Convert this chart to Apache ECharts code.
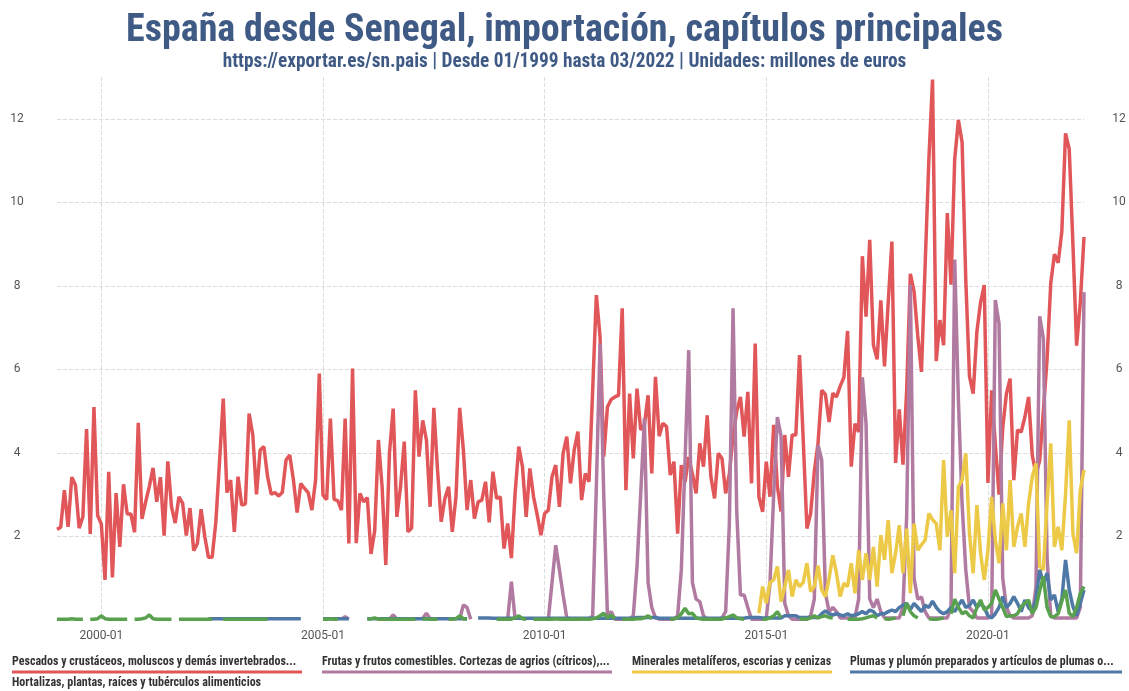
<!DOCTYPE html>
<html><head><meta charset="utf-8">
<script src="https://cdn.jsdelivr.net/npm/echarts@6/dist/echarts.min.js"></script>
<style>html,body{margin:0;padding:0;background:#fff}#c{width:1129px;height:691px}</style>
</head><body><div id="c"></div>
<script>
// Monthly categories 1999-01 .. 2022-03
const categories = [];
for (let y = 1999; y <= 2022; y++) for (let m = 1; m <= 12; m++) {
  if (y === 2022 && m > 3) break;
  categories.push(y + '-' + String(m).padStart(2, '0'));
}
const tickLabels = ['2000-01', '2005-01', '2010-01', '2015-01', '2020-01'];
const seriesNames = [
  'Pescados y crustáceos, moluscos y demás invertebrados...',
  'Frutas y frutos comestibles. Cortezas de agrios (cítricos),...',
  'Minerales metalíferos, escorias y cenizas',
  'Plumas y plumón preparados y artículos de plumas o...',
  'Hortalizas, plantas, raíces y tubérculos alimenticios'
];
const colors = ['#e15759', '#b07aa1', '#edc948', '#4e79a7', '#59a14f'];

const pescados = [
  2.17,2.22,3.11,2.23,3.42,3.23,2.2,2.47,4.57,2.06,5.1,2.5,
  2.3,0.96,3.55,1.02,3.04,1.75,3.25,2.54,2.54,2.1,4.72,2.42,
  2.83,3.2,3.64,2.83,3.42,2.02,3.8,2.71,2.32,2.95,2.8,2.02,
  2.68,1.66,1.83,2.65,2.0,1.5,1.5,2.35,3.8,5.3,3.05,3.35,
  2.11,3.43,2.75,2.78,4.94,4.43,3.01,4.07,4.15,3.43,3.01,3.05,
  2.97,3.06,3.83,3.95,3.35,2.57,3.27,3.15,3.05,2.63,3.35,5.9,
  2.99,2.88,4.82,2.89,2.86,2.63,4.82,1.83,6.02,1.84,3.03,2.83,
  2.93,1.58,2.14,4.31,3.19,1.32,4.0,5.06,2.47,3.2,4.27,2.11,
  2.2,5.5,3.91,4.78,4.31,2.71,5.08,3.6,2.35,2.91,3.19,2.11,
  2.95,5.08,4.07,2.63,3.35,2.43,2.83,2.87,3.31,2.34,3.55,2.91,
  2.95,1.71,2.31,1.48,3.03,4.15,3.67,2.47,3.63,2.95,2.51,2.03,
  2.55,2.63,3.43,3.71,2.71,3.99,4.39,3.27,4.07,4.51,2.87,3.51,
  3.31,5.5,7.78,6.78,3.91,5.1,5.28,5.34,5.38,7.46,3.11,5.42,
  3.87,5.54,4.55,4.67,5.38,3.51,5.82,4.4,4.71,4.63,3.47,3.79,
  2.07,3.71,3.3,3.9,3.5,3.03,4.23,3.67,4.9,3.43,2.91,3.99,
  3.87,3.03,3.5,4.4,5.0,5.34,4.39,5.46,3.27,6.62,2.95,2.59,
  3.79,2.95,4.67,3.2,2.6,4.43,3.43,4.43,4.43,6.34,4.31,2.19,
  2.55,3.55,4.23,5.5,5.4,4.74,5.43,5.34,5.6,5.81,6.92,3.67,
  4.7,4.5,8.71,7.26,9.1,6.58,6.24,7.65,6.07,7.6,9.06,3.76,
  5.04,3.72,5.5,8.29,7.86,6.8,5.94,8.5,11.0,12.94,6.2,7.18,
  6.58,9.74,8.03,11.03,11.97,11.44,8.14,5.83,5.42,6.9,7.6,8.02,
  3.28,5.5,4.2,3.0,4.6,5.42,5.78,3.35,4.55,4.5,4.86,5.34,
  3.94,3.5,3.81,5.0,6.24,8.06,8.76,8.55,9.3,11.65,11.28,9.0,
  6.57,7.6,9.17
];

const frutas = [
  null,null,null,null,null,null,null,null,null,null,null,null,
  null,null,null,null,null,null,null,null,null,null,null,null,
  null,null,null,null,null,null,null,null,null,null,null,null,
  null,null,null,null,null,null,null,null,null,null,null,null,
  null,null,null,null,null,null,null,null,null,null,null,null,
  null,null,null,null,null,null,null,null,null,null,null,null,
  null,null,null,null,null,0.02,0.08,0.02,null,null,null,null,
  null,null,null,null,null,null,0.02,0.12,0.02,null,null,null,
  null,null,null,0.04,0.16,0.03,null,null,null,null,null,null,
  null,0.02,0.36,0.3,0.02,null,null,null,null,null,null,null,
  null,null,0.02,0.92,0.03,null,null,null,null,null,null,null,
  null,0.02,0.9,1.79,1.2,0.6,0.05,0.02,0.02,0.02,0.02,0.02,
  0.02,0.1,3.2,6.62,3.0,0.1,0.2,0.02,0.02,0.02,0.02,0.02,
  0.1,1.28,3.0,4.83,0.9,0.3,0.05,0.02,0.02,0.02,0.02,0.02,
  0.1,1.2,3.8,6.46,0.9,0.5,0.44,0.1,0.02,0.02,0.02,0.02,
  0.05,0.2,2.3,7.46,2.6,0.6,0.6,0.3,0.02,0.02,0.02,0.02,
  0.05,0.88,3.0,4.86,4.4,0.4,0.1,0.02,0.02,0.02,0.02,0.02,
  0.1,0.5,4.19,3.83,0.64,0.2,0.3,0.2,0.05,0.05,0.05,0.05,
  0.05,0.5,5.81,4.7,0.5,0.3,0.5,0.2,0.05,0.05,0.05,0.05,
  0.05,0.3,2.5,8.03,1.0,0.5,0.55,0.2,0.05,0.05,0.05,0.05,
  0.05,0.05,0.3,8.63,5.26,2.78,1.2,0.3,0.2,0.05,0.05,0.05,
  0.05,0.1,7.66,7.1,1.0,0.3,0.1,0.05,0.05,0.05,0.05,0.05,
  0.1,0.8,7.27,6.74,1.5,0.1,0.05,0.05,0.05,0.05,0.05,0.05,
  0.05,0.3,7.85
];

// Minerales: values from 2014-11 onward
const mineralesStart = '2014-11';
const minerales = [
  0.16,0.8,
  0.4,0.9,0.96,1.28,0.44,0.8,1.2,0.56,0.96,0.8,0.9,1.36,
  0.68,0.8,1.3,0.72,0.56,1.0,1.55,1.12,0.56,0.88,0.8,1.36,
  0.64,1.67,0.96,1.6,0.96,1.75,0.8,2.03,1.44,2.39,1.12,1.6,
  2.27,1.12,2.19,0.64,2.31,1.67,1.8,1.91,2.55,2.4,2.31,1.67,
  3.83,1.99,2.63,1.12,3.19,3.35,3.99,2.07,1.12,2.75,1.6,0.96,
  1.67,2.95,1.91,1.36,2.79,1.67,3.35,1.75,2.23,2.55,1.75,2.79,
  3.43,3.75,1.28,1.2,2.8,4.23,1.75,2.23,1.67,3.0,4.78,2.07,
  1.6,3.11,3.59
];

const plumas = [
  null,null,null,null,null,null,null,null,null,null,null,null,
  null,null,null,null,null,null,null,null,null,null,null,null,
  null,null,null,null,null,null,null,null,null,null,null,null,
  null,null,null,null,null,0.03,0.03,0.03,0.03,0.03,0.03,0.03,
  0.03,0.03,0.03,0.03,0.03,0.03,0.03,0.03,0.03,0.03,0.03,0.03,
  0.03,0.03,0.03,0.03,0.03,0.03,0.03,null,null,null,null,null,
  0.03,0.03,0.03,0.03,0.03,0.03,0.03,0.03,null,null,null,null,
  0.03,0.03,0.03,0.03,0.03,0.03,0.03,0.03,0.03,0.03,0.03,0.03,
  0.03,0.03,0.03,0.03,0.03,0.03,0.03,0.03,0.03,0.03,0.03,0.03,
  0.03,0.03,0.03,0.03,null,null,0.05,0.05,0.05,0.05,0.04,0.04,
  0.04,0.04,0.04,0.04,0.04,0.04,0.04,0.04,0.04,0.04,0.04,0.04,
  0.04,0.04,0.04,0.04,0.04,0.04,0.04,0.04,0.04,0.04,0.04,0.04,
  0.04,0.04,0.04,0.04,0.04,0.04,0.04,0.04,0.04,0.04,0.04,0.04,
  0.04,0.06,0.06,0.06,0.06,0.06,0.06,0.04,0.04,0.04,0.04,0.04,
  0.04,0.04,0.04,0.04,0.04,0.04,0.04,0.04,0.04,0.04,0.04,0.04,
  0.04,0.04,0.04,0.04,0.04,0.04,0.04,0.06,0.06,0.06,0.06,0.05,
  0.05,0.05,0.05,0.05,0.05,0.1,0.1,0.1,0.1,0.06,0.06,0.06,
  0.06,0.06,0.06,0.15,0.22,0.15,0.12,0.15,0.12,0.1,0.15,0.1,
  0.12,0.15,0.2,0.15,0.24,0.2,0.1,0.15,0.15,0.2,0.24,0.2,
  0.3,0.35,0.4,0.25,0.4,0.3,0.2,0.35,0.3,0.45,0.3,0.2,
  0.15,0.2,0.3,0.2,0.35,0.48,0.3,0.35,0.48,0.3,0.4,0.3,
  0.1,0.05,0.15,0.3,0.56,0.3,0.4,0.56,0.4,0.2,0.48,0.3,
  0.2,0.5,1.2,0.88,1.12,0.48,0.6,0.2,0.5,1.44,0.72,0.32,
  0.1,0.4,0.72
];

const hortalizas = [
  0.02,0.02,0.02,0.02,0.03,0.02,0.02,0.02,null,0.02,0.02,0.03,
  0.1,0.03,0.02,0.02,0.02,0.02,0.02,0.02,null,0.02,0.02,0.03,
  0.05,0.12,0.03,0.02,0.02,0.02,0.02,0.02,null,0.02,0.02,0.02,
  0.02,0.02,0.02,0.02,0.02,0.02,0.02,null,null,0.02,0.02,0.02,
  0.02,0.02,0.02,0.02,0.02,0.02,0.02,0.02,0.02,0.02,null,null,
  null,null,null,null,null,null,null,null,null,null,null,null,
  0.02,0.02,0.03,0.02,0.02,null,null,null,null,null,null,null,
  0.02,0.03,0.05,0.02,0.02,0.02,0.02,0.02,0.02,0.02,0.02,0.02,
  0.02,0.02,null,0.02,0.03,0.02,0.02,0.02,null,null,0.02,0.02,
  0.03,0.1,0.03,0.02,null,null,null,null,null,null,null,0.02,
  0.02,0.02,0.02,0.02,0.05,0.1,0.03,0.02,null,0.02,0.02,0.02,
  0.02,0.02,0.02,0.03,0.02,0.02,0.02,0.02,0.02,0.02,0.03,0.02,
  0.02,0.03,0.05,0.1,0.16,0.05,0.12,0.03,null,0.02,0.02,0.02,
  0.02,0.03,0.03,0.05,0.1,0.03,null,null,null,null,0.02,0.03,
  0.05,0.15,0.28,0.15,0.16,0.05,0.03,0.02,0.02,0.02,0.02,0.02,
  0.02,0.05,0.08,0.12,0.05,0.03,0.02,null,null,null,null,0.02,
  0.02,0.05,0.1,0.2,0.05,null,null,null,null,0.02,0.03,0.02,
  0.05,0.1,0.05,0.08,0.1,0.06,0.05,null,null,null,0.02,0.02,
  0.02,0.02,0.03,0.05,0.08,0.1,0.05,null,0.03,0.02,0.03,0.05,
  null,0.1,0.4,0.2,0.1,0.05,null,null,0.03,0.02,0.02,0.03,
  0.05,null,0.15,0.5,0.3,0.15,0.2,0.1,0.05,0.3,0.48,0.24,
  0.3,0.4,0.72,0.5,0.3,0.08,0.1,0.1,0.15,0.32,0.4,0.48,
  0.15,0.3,0.7,1.04,0.3,0.08,0.08,0.15,0.45,0.72,0.16,0.08,
  0.3,0.64,0.8
];

const yTicks = [2, 4, 6, 8, 10, 12];

const startIdx = categories.indexOf(mineralesStart);
const mineralesFull = categories.map((c, i) => i < startIdx ? null : minerales[i - startIdx]);
const seriesData = [pescados, frutas, mineralesFull, plumas, hortalizas];

const titleColor = '#3f5a85';
const narrow = '"Liberation Sans Narrow", "Roboto Condensed", Roboto, sans-serif';

const legendPos = [
  { left: 7, top: 656, w: 290 },
  { left: 317, top: 656, w: 290 },
  { left: 627, top: 656, w: 200 },
  { left: 845, top: 656, w: 272 },
  { left: 7, top: 677, w: 253 }
];

const showTick = (i, v) => tickLabels.indexOf(v) >= 0;

const chart = echarts.init(document.getElementById('c'), null, { renderer: 'canvas' });
chart.setOption({
  animation: false,
  backgroundColor: '#ffffff',
  title: {
    text: 'España desde Senegal, importación, capítulos principales',
    subtext: 'https://exportar.es/sn.pais | Desde 01/1999 hasta 03/2022 | Unidades: millones de euros',
    left: 'center', top: 7, itemGap: 3,
    textStyle: { fontFamily: narrow, fontSize: 38, fontWeight: 'bold', color: titleColor },
    subtextStyle: { fontFamily: narrow, fontSize: 19.3, fontWeight: 'bold', color: titleColor }
  },
  legend: seriesNames.map((n, k) => ({
    left: legendPos[k].left, top: legendPos[k].top, padding: 0, itemGap: 0,
    itemWidth: 0, itemHeight: 0, icon: 'rect',
    data: [n],
    formatter: name => '{t|' + name + '}\n{l|}',
    textStyle: {
      rich: {
        t: { fontFamily: narrow, fontSize: 12, fontWeight: 'bold', color: '#333', lineHeight: 14 },
        l: { width: legendPos[k].w, height: 3, backgroundColor: colors[k], lineHeight: 6 }
      }
    }
  })),
  grid: { left: 57, right: 45, top: 77, bottom: 71, containLabel: false },
  xAxis: {
    type: 'category', data: categories, boundaryGap: false,
    axisLine: { show: false }, axisTick: { show: false },
    axisLabel: { interval: showTick, color: '#555', fontSize: 12, margin: 10, fontFamily: 'Roboto, sans-serif' },
    splitLine: { show: true, interval: showTick, lineStyle: { type: 'dashed', color: '#dcdcdc', width: 1 } }
  },
  yAxis: [
    {
      type: 'value', position: 'left', min: 0, max: 13, interval: 2,
      axisLine: { show: false }, axisTick: { show: false },
      axisLabel: { showMinLabel: false, showMaxLabel: false, align: 'center', margin: 40, color: '#555', fontSize: 12, fontFamily: 'Roboto, sans-serif',
        formatter: v => yTicks.indexOf(v) >= 0 ? String(v) : '' },
      splitLine: { show: true, showMinLine: false, showMaxLine: false, lineStyle: { type: 'dashed', color: '#dcdcdc', width: 1 } }
    },
    {
      type: 'value', position: 'right', min: 0, max: 13, interval: 2,
      axisLine: { show: false }, axisTick: { show: false },
      axisLabel: { showMinLabel: false, showMaxLabel: false, align: 'center', margin: 35, color: '#555', fontSize: 12, fontFamily: 'Roboto, sans-serif',
        formatter: v => yTicks.indexOf(v) >= 0 ? String(v) : '' },
      splitLine: { show: false }
    }
  ],
  series: seriesNames.map((n, k) => ({
    name: n, type: 'line', data: seriesData[k], yAxisIndex: 0,
    showSymbol: false, symbol: 'none', connectNulls: false,
    lineStyle: { width: 3.5, color: colors[k] }, itemStyle: { color: colors[k] },
    emphasis: { disabled: true }
  }))
});
</script>
</body></html>
